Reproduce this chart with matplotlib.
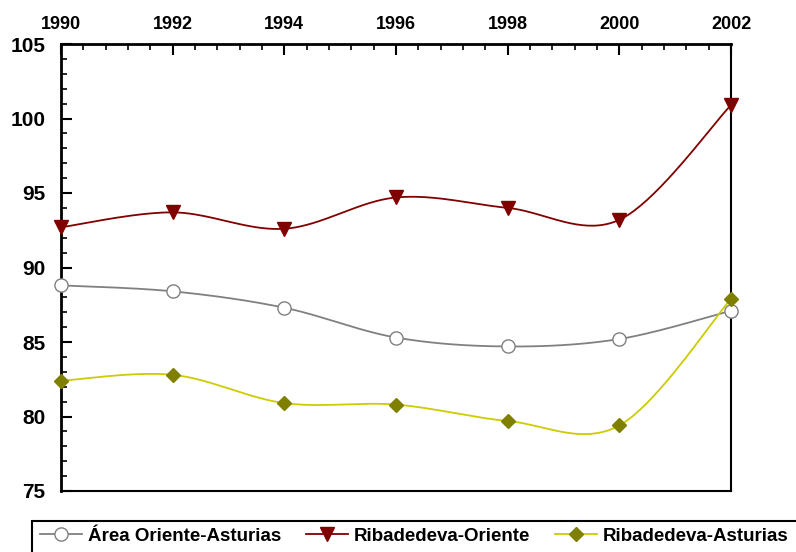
import numpy as np
import matplotlib
matplotlib.use("Agg")
import matplotlib.pyplot as plt
from matplotlib.ticker import MultipleLocator
from matplotlib.patches import Rectangle
from matplotlib.lines import Line2D

years = [1990, 1992, 1994, 1996, 1998, 2000, 2002]
area_oriente_asturias = [88.8, 88.4, 87.3, 85.3, 84.7, 85.2, 87.1]
ribadedeva_oriente = [92.7, 93.7, 92.6, 94.7, 94.0, 93.2, 100.9]
ribadedeva_asturias = [82.4, 82.8, 80.9, 80.8, 79.7, 79.4, 87.9]
labels = ["Área Oriente-Asturias", "Ribadedeva-Oriente", "Ribadedeva-Asturias"]

plt.rcParams['font.family'] = ['Liberation Sans', 'DejaVu Sans']
plt.rcParams['font.weight'] = 'bold'


def smooth(xs, ys, n=40):
    p = np.column_stack([xs, ys]).astype(float)
    p = np.vstack([p[0], p, p[-1]])
    out = []
    for i in range(1, len(p) - 2):
        p0, p1, p2, p3 = p[i - 1], p[i], p[i + 1], p[i + 2]
        t = np.linspace(0, 1, n)[:, None]
        c = 0.5 * ((2 * p1) + (-p0 + p2) * t + (2 * p0 - 5 * p1 + 4 * p2 - p3) * t ** 2
                   + (-p0 + 3 * p1 - 3 * p2 + p3) * t ** 3)
        out.append(c if i == 1 else c[1:])
    c = np.vstack(out)
    return c[:, 0], c[:, 1]


fig = plt.figure(figsize=(7.96, 5.52), dpi=100)
W, H = 796, 552
ax = fig.add_axes([61 / W, 1 - 491 / H, 670 / W, 447 / H])

series = [
    (area_oriente_asturias, '#808080', 'o', dict(markerfacecolor='white', markeredgecolor='#808080', markersize=9.5, markeredgewidth=1.0)),
    (ribadedeva_oriente, '#800000', 'v', dict(markerfacecolor='#800000', markeredgecolor='#800000', markersize=10)),
    (ribadedeva_asturias, '#CCCC00', 'D', dict(markerfacecolor='#808000', markeredgecolor='#808000', markersize=7)),
]
handles = []
for (vals, col, mk, mkw), lab in zip(series, labels):
    sx, sy = smooth(years, vals)
    ax.plot(sx, sy, color=col, lw=1.3, zorder=2, clip_on=False)
    ax.plot(years, vals, linestyle='none', marker=mk, zorder=3, clip_on=False, **mkw)
    handles.append(Line2D([0], [0], color=col, lw=1.3, marker=mk, **mkw))

ax.set_xlim(1990, 2002)
ax.set_ylim(75, 105)
ax.xaxis.set_major_locator(MultipleLocator(2))
ax.xaxis.set_minor_locator(MultipleLocator(0.4))
ax.yaxis.set_major_locator(MultipleLocator(5))
ax.yaxis.set_minor_locator(MultipleLocator(1))
ax.xaxis.tick_top()
ax.tick_params(axis='x', which='both', top=True, bottom=False, direction='in')
ax.tick_params(axis='y', which='both', left=True, right=False, direction='in')
ax.tick_params(which='major', length=8, width=1.5)
ax.tick_params(which='minor', length=4.5, width=1.2)
ax.tick_params(axis='x', labelsize=13, pad=8)
ax.tick_params(axis='y', labelsize=15, pad=11)
for lab in ax.get_xticklabels() + ax.get_yticklabels():
    lab.set_fontweight('bold')
for s in ax.spines.values():
    s.set_linewidth(1.5)
ax.spines['top'].set_linewidth(2)
ax.spines['left'].set_linewidth(2)

fig.patches.append(Rectangle((32 / W, -0.1), 1.0, 1 - 521 / H + 0.1, transform=fig.transFigure,
                             fill=False, edgecolor='black', linewidth=1.5, zorder=0))
fig.legend(handles, labels, loc='center left', bbox_to_anchor=(40 / W, 1 - 536 / H), ncol=3,
           frameon=False, prop={'size': 13.5, 'weight': 'bold'}, handlelength=2.25,
           handletextpad=0.32, columnspacing=1.3, borderaxespad=0, borderpad=0)

fig.savefig('out.png', dpi=100)
